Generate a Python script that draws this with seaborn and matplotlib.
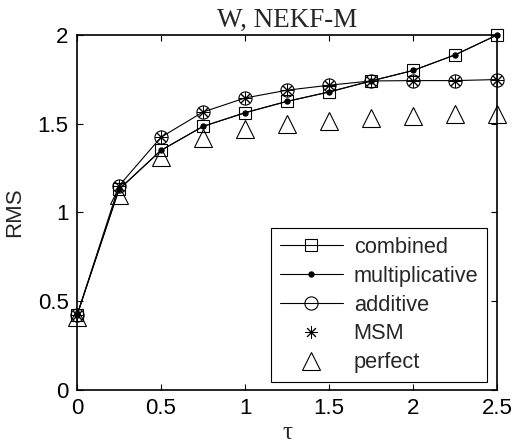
import numpy as np
import pandas as pd
import seaborn as sns
import matplotlib
matplotlib.use("Agg")
import matplotlib.pyplot as plt

tau = [0, 0.25, 0.5, 0.75, 1.0, 1.25, 1.5, 1.75, 2.0, 2.25, 2.5]
combined = [0.42, 1.13, 1.35, 1.485, 1.562, 1.626, 1.679, 1.741, 1.80, 1.888, 2.0]
multiplicative = [0.42, 1.13, 1.35, 1.485, 1.562, 1.626, 1.679, 1.741, 1.80, 1.888, 2.0]
additive = [0.42, 1.15, 1.424, 1.566, 1.645, 1.689, 1.717, 1.741, 1.743, 1.743, 1.749]
msm = [0.42, 1.15, 1.424, 1.566, 1.645, 1.689, 1.717, 1.741, 1.743, 1.743, 1.749]
perfect = [0.41, 1.10, 1.31, 1.42, 1.468, 1.50, 1.515, 1.534, 1.544, 1.553, 1.553]

x_ticks = [0, 0.5, 1, 1.5, 2, 2.5]
x_ticklabels = ["0", "0.5", "1", "1.5", "2", "2.5"]
y_ticks = [0, 0.5, 1, 1.5, 2]
y_ticklabels = ["0", "0.5", "1", "1.5", "2"]

sns.set_style("ticks")
plt.rcParams["font.family"] = ["Liberation Sans", "DejaVu Sans"]
plt.rcParams["xtick.direction"] = "in"
plt.rcParams["ytick.direction"] = "in"

fig = plt.figure(figsize=(5.13, 4.44), dpi=100)
ax = fig.add_axes([0.150, 0.1216, 0.819, 0.7996])

lw = 0.8
common = dict(ax=ax, color="k", clip_on=False)
sns.lineplot(x=tau, y=combined, lw=lw, marker="s", ms=9,
             mfc="none", mec="k", mew=0.8, label="combined", **common)
sns.lineplot(x=tau, y=multiplicative, lw=lw, marker="o", ms=3.8,
             mfc="k", mec="k", label="multiplicative", **common)
sns.lineplot(x=tau, y=additive, lw=lw, marker="o", ms=9.5,
             mfc="none", mec="k", mew=0.8, label="additive", **common)
sns.lineplot(x=tau, y=msm, linestyle="none", marker=(8, 2, 0), ms=9,
             mec="k", mew=0.7, label="MSM", **common)
sns.lineplot(x=tau, y=perfect, linestyle="none", marker="^", ms=13,
             mfc="none", mec="k", mew=0.8, label="perfect", **common)

ax.set_xlim(0, 2.5)
ax.set_ylim(0, 2)
ax.set_xticks(x_ticks)
ax.set_xticklabels(x_ticklabels)
ax.set_yticks(y_ticks)
ax.set_yticklabels(y_ticklabels)
ax.tick_params(axis="both", which="both", direction="in", length=4, width=0.8,
               labelsize=16, top=True, right=True, pad=6, colors="k")
for s in ax.spines.values():
    s.set_visible(True)
    s.set_linewidth(1.2)
    s.set_color("k")
    s.set_zorder(5)

ax.set_title("W, NEKF-M", family=["Liberation Serif", "DejaVu Serif"], fontsize=19.5, pad=6)
ax.set_xlabel("τ", family=["Liberation Serif", "DejaVu Serif"], fontsize=18, labelpad=2)
ax.set_ylabel("RMS", fontsize=16, labelpad=9)

leg = ax.legend(loc="lower right", bbox_to_anchor=(0.976, 0.0225), borderaxespad=0,
                fontsize=15.7, frameon=True, fancybox=False, edgecolor="k",
                handlelength=2.9, handletextpad=0.5, labelspacing=0.36,
                borderpad=0.4, framealpha=1)
leg.get_frame().set_linewidth(0.8)

fig.savefig("out.png", dpi=100)
